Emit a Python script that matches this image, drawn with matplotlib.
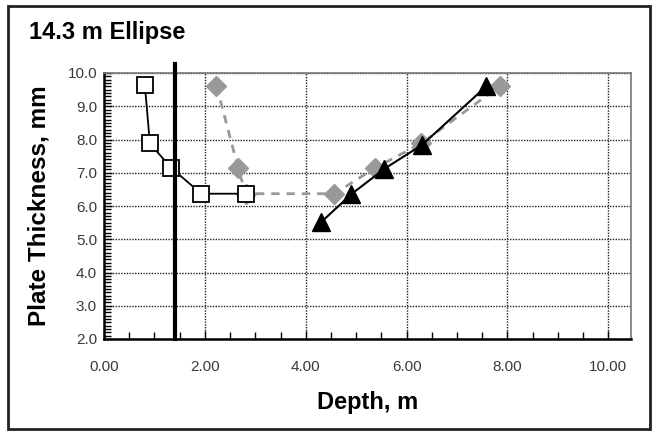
import matplotlib.pyplot as plt
from matplotlib.ticker import MultipleLocator, FormatStrFormatter
from matplotlib.patches import Rectangle

plt.rcParams['font.family'] = ['Liberation Sans', 'DejaVu Sans']

# data
sq_x = [0.81, 0.91, 1.33, 1.93, 2.81]
sq_y = [9.63, 7.88, 7.15, 6.37, 6.37]

dia_x = [2.23, 2.66, 2.81, 4.57, 5.37, 6.29, 7.86]
dia_y = [9.62, 7.14, 6.37, 6.37, 7.14, 7.88, 9.62]

tri_x = [4.31, 4.90, 5.56, 6.31, 7.58]
tri_y = [5.52, 6.35, 7.12, 7.84, 9.60]

vline_x = 1.41

fig = plt.figure(figsize=(6.56, 4.32), dpi=100)
ax = fig.add_axes([104 / 656, 1 - 339 / 432, (631 - 104) / 656, (339 - 73) / 432])

# outer frame
fig.patches.append(Rectangle((8 / 656, 3 / 432), 642 / 656, 423 / 432, transform=fig.transFigure,
                             fill=False, edgecolor='#222222', linewidth=2))

ax.set_xlim(0, 10.45)
ax.set_ylim(2, 10)
ax.xaxis.set_major_locator(MultipleLocator(2))
ax.xaxis.set_minor_locator(MultipleLocator(0.5))
ax.yaxis.set_major_locator(MultipleLocator(1))
ax.yaxis.set_minor_locator(MultipleLocator(0.1))
ax.xaxis.set_major_formatter(FormatStrFormatter('%.2f'))
ax.yaxis.set_major_formatter(FormatStrFormatter('%.1f'))

ax.grid(True, which='major', color='#222222', linestyle=(0, (1, 1)), linewidth=1)
ax.set_axisbelow(True)
ax.tick_params(which='both', direction='in', top=False, right=False,
               labelsize=11, labelcolor='#3a3a3a')
ax.tick_params(axis='x', pad=15)
ax.tick_params(axis='y', pad=5)
ax.tick_params(which='major', length=6, width=1)
ax.tick_params(which='minor', length=5, width=1)

for s in ['left', 'bottom']:
    ax.spines[s].set_linewidth(1.8)
    ax.spines[s].set_color('black')
for s in ['top', 'right']:
    ax.spines[s].set_linewidth(1.2)
    ax.spines[s].set_color('#777777')

# gray dashed diamonds
ax.plot(dia_x, dia_y, color='#999999', linestyle=(0, (3, 2.5)), linewidth=2,
        marker='D', markersize=10, markerfacecolor='#999999', markeredgecolor='#999999', zorder=3)
# black triangles
ax.plot(tri_x, tri_y, color='black', linewidth=1.5, marker='^', markersize=13,
        markerfacecolor='black', markeredgecolor='black', zorder=4)
# open squares
ax.plot(sq_x, sq_y, color='black', linewidth=1.3, marker='s', markersize=11,
        markerfacecolor='white', markeredgecolor='black', markeredgewidth=1.3, zorder=5)

# thick vertical line
ax.plot([vline_x, vline_x], [2, 10.28], color='black', linewidth=3, clip_on=False, zorder=6)

ax.set_xlabel('Depth, m', fontsize=17, fontweight='bold', labelpad=12)
ax.set_ylabel('Plate Thickness, mm', fontsize=17.5, fontweight='bold', labelpad=12)
fig.text(29 / 656, 1 - 33 / 432, '14.3 m Ellipse', fontsize=17, fontweight='bold', va='center')

fig.savefig('out.png', dpi=100)
